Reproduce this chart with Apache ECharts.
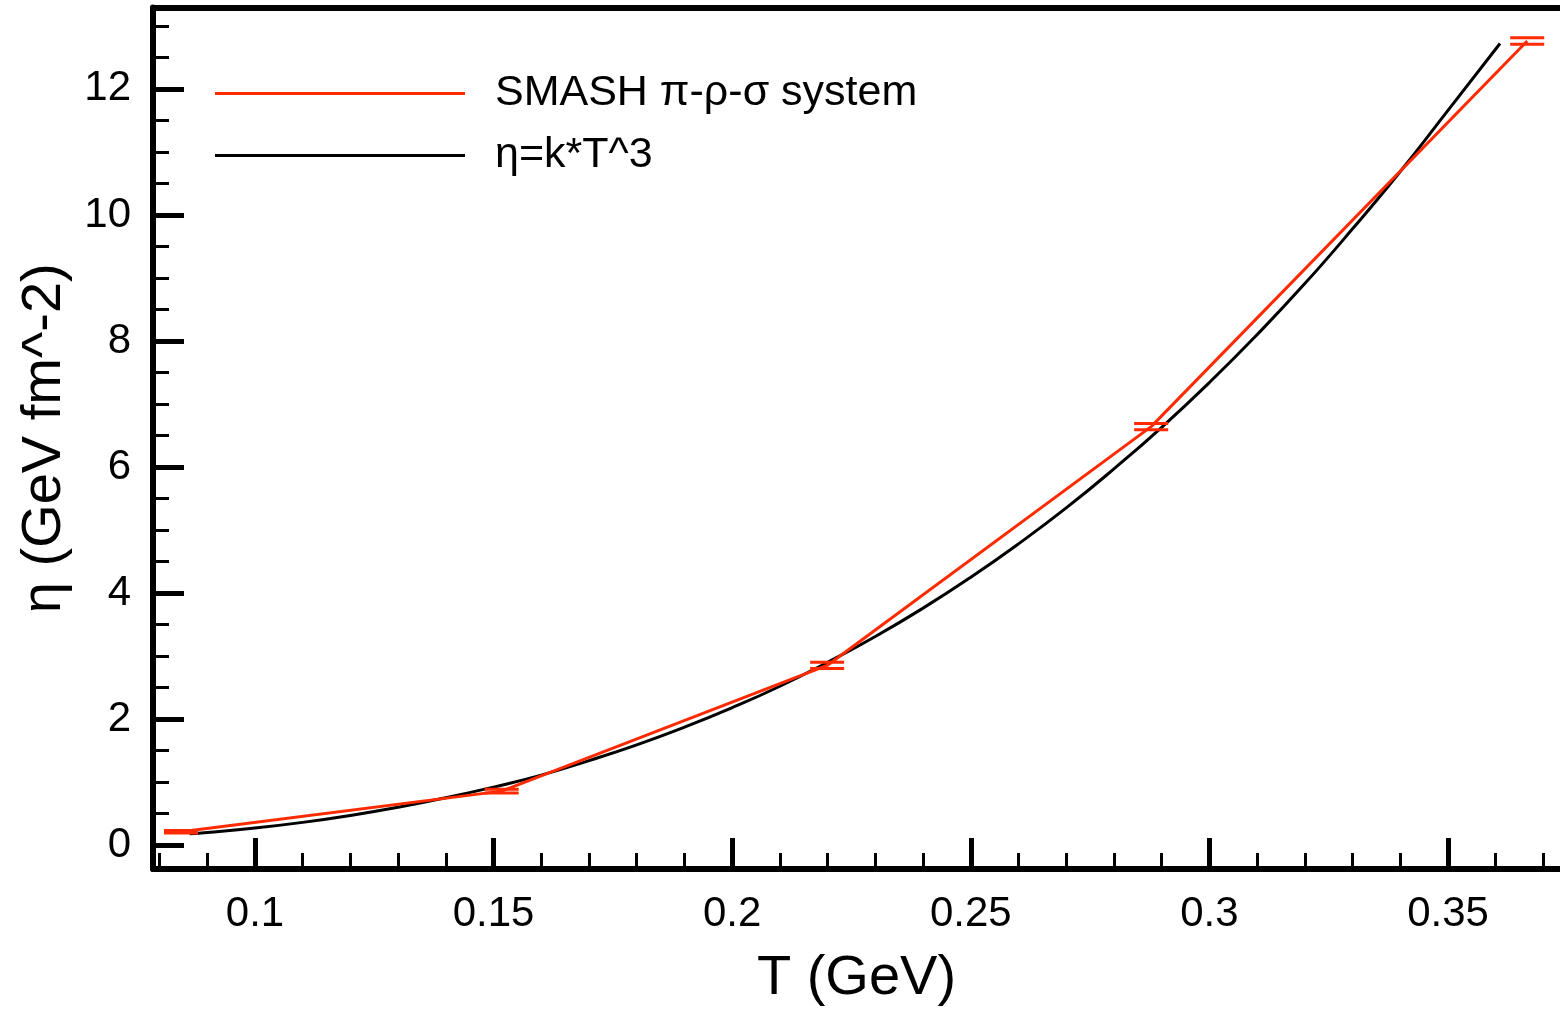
<!DOCTYPE html>
<html>
<head>
<meta charset="utf-8">
<script src="https://cdn.jsdelivr.net/npm/echarts@6/dist/echarts.min.js"></script>
<style>
html,body{margin:0;padding:0;background:#fff;}
#c{width:1560px;height:1012px;}
</style>
</head>
<body>
<div id="c"></div>
<script>
// ---- data ----
const smashName = 'SMASH π-ρ-σ system';
const fitName = 'η=k*T^3';
const smashT   = [0.0845, 0.1517, 0.2199, 0.2878, 0.3666];
const smashEta = [0.21, 0.856, 2.85, 6.64, 12.76];
const smashErr = [0.02, 0.03, 0.05, 0.05, 0.05];
const fitT   = [0.0863, 0.09, 0.10, 0.11, 0.12, 0.13, 0.14, 0.15, 0.16, 0.17, 0.18, 0.19, 0.20, 0.21, 0.22, 0.23, 0.24, 0.25, 0.26, 0.27, 0.28, 0.29, 0.30, 0.31, 0.32, 0.33, 0.34, 0.35, 0.3609];
const fitEta = [0.18, 0.20, 0.27, 0.36, 0.47, 0.60, 0.75, 0.92, 1.11, 1.34, 1.59, 1.87, 2.18, 2.52, 2.90, 3.31, 3.76, 4.25, 4.78, 5.35, 5.97, 6.63, 7.34, 8.10, 8.91, 9.78, 10.69, 11.66, 12.72];
const xMajorTicks = [0.1, 0.15, 0.2, 0.25, 0.3, 0.35];
const xMinorTicks = [0.08, 0.09, 0.11, 0.12, 0.13, 0.14, 0.16, 0.17, 0.18, 0.19, 0.21, 0.22, 0.23, 0.24, 0.26, 0.27, 0.28, 0.29, 0.31, 0.32, 0.33, 0.34, 0.36, 0.37];
const yMajorTicks = [0, 2, 4, 6, 8, 10, 12];
const yMinorTicks = [0.5, 1, 1.5, 2.5, 3, 3.5, 4.5, 5, 5.5, 6.5, 7, 7.5, 8.5, 9, 9.5, 10.5, 11, 11.5, 12.5, 13];
const xTitle = 'T (GeV)';
const yTitle = 'η (GeV fm^-2)';

const X_MIN = 0.07863, X_MAX = 0.37347;
const Y_MIN = -0.38, Y_MAX = 13.292;
const RED = '#ff2a00';
const FONT = '"Liberation Sans", Arial, Helvetica, sans-serif';

const chart = echarts.init(document.getElementById('c'), null, {renderer: 'canvas'});

const smashData = smashT.map((t, i) => [t, smashEta[i]]);
const fitData = fitT.map((t, i) => [t, fitEta[i]]);
const errData = smashT.map((t, i) => [t, smashEta[i], smashErr[i]]);

const baseX = {type: 'value', min: X_MIN, max: X_MAX, splitLine: {show: false}};
const baseY = {type: 'value', min: Y_MIN, max: Y_MAX, splitLine: {show: false}};

const option = {
  backgroundColor: '#fff',
  animation: false,
  grid: {left: 153, right: 0, top: 7.5, bottom: 142, containLabel: false},
  legend: {
    orient: 'vertical', left: 215, top: 72, padding: 0,
    icon: 'rect',
    itemWidth: 250, itemHeight: 3, itemGap: 19,
    textStyle: {fontSize: 43, fontFamily: FONT, color: '#000', padding: [0, 0, 0, 25]},
    data: [smashName, fitName]
  },
  xAxis: [
    Object.assign({}, baseX, {
      position: 'bottom',
      name: xTitle, nameLocation: 'middle', nameGap: 82,
      nameTextStyle: {fontSize: 56, fontFamily: FONT, color: '#000'},
      axisLine: {show: true, onZero: false, lineStyle: {color: '#000', width: 6}},
      axisTick: {show: true, inside: true, length: 31, customValues: xMajorTicks, lineStyle: {color: '#000', width: 5}},
      axisLabel: {show: true, customValues: xMajorTicks, margin: 24, fontSize: 42, fontFamily: FONT, color: '#000',
        formatter: v => String(+v.toFixed(2))}
    }),
    Object.assign({}, baseX, {
      position: 'bottom',
      axisLine: {show: false, onZero: false},
      axisTick: {show: true, inside: true, length: 16, customValues: xMinorTicks, lineStyle: {color: '#000', width: 3}},
      axisLabel: {show: false}
    }),
    Object.assign({}, baseX, {
      position: 'top',
      axisLine: {show: true, onZero: false, lineStyle: {color: '#000', width: 6}},
      axisTick: {show: false}, axisLabel: {show: false}
    })
  ],
  yAxis: [
    Object.assign({}, baseY, {
      position: 'left',
      name: yTitle, nameLocation: 'middle', nameGap: 80, nameRotate: 90,
      nameTextStyle: {fontSize: 56, fontFamily: FONT, color: '#000'},
      axisLine: {show: true, onZero: false, lineStyle: {color: '#000', width: 6}},
      axisTick: {show: true, inside: true, length: 31, customValues: yMajorTicks, lineStyle: {color: '#000', width: 5}},
      axisLabel: {show: true, customValues: yMajorTicks, margin: 22, fontSize: 42, fontFamily: FONT, color: '#000'}
    }),
    Object.assign({}, baseY, {
      position: 'left',
      axisLine: {show: false, onZero: false},
      axisTick: {show: true, inside: true, length: 16, customValues: yMinorTicks, lineStyle: {color: '#000', width: 3}},
      axisLabel: {show: false}
    })
  ],
  series: [
    {
      name: smashName, type: 'line', xAxisIndex: 0, yAxisIndex: 0,
      data: smashData, symbol: 'none', smooth: false,
      lineStyle: {color: RED, width: 3}, itemStyle: {color: RED}, z: 3
    },
    {
      name: 'err', type: 'custom', xAxisIndex: 0, yAxisIndex: 0,
      data: errData, z: 4,
      renderItem: function (params, api) {
        const t = api.value(0), e = api.value(1), d = api.value(2);
        const hi = api.coord([t, e + d]);
        const lo = api.coord([t, e - d]);
        const hw = 17;
        const style = {stroke: RED, lineWidth: 3};
        return {type: 'group', children: [
          {type: 'line', shape: {x1: hi[0] - hw, y1: hi[1], x2: hi[0] + hw, y2: hi[1]}, style: style},
          {type: 'line', shape: {x1: lo[0] - hw, y1: lo[1], x2: lo[0] + hw, y2: lo[1]}, style: style}
        ]};
      }
    },
    {
      name: fitName, type: 'line', xAxisIndex: 0, yAxisIndex: 0,
      data: fitData, symbol: 'none', smooth: true,
      lineStyle: {color: '#000', width: 3}, itemStyle: {color: '#000'}, z: 2
    }
  ]
};
chart.setOption(option);
</script>
</body>
</html>
